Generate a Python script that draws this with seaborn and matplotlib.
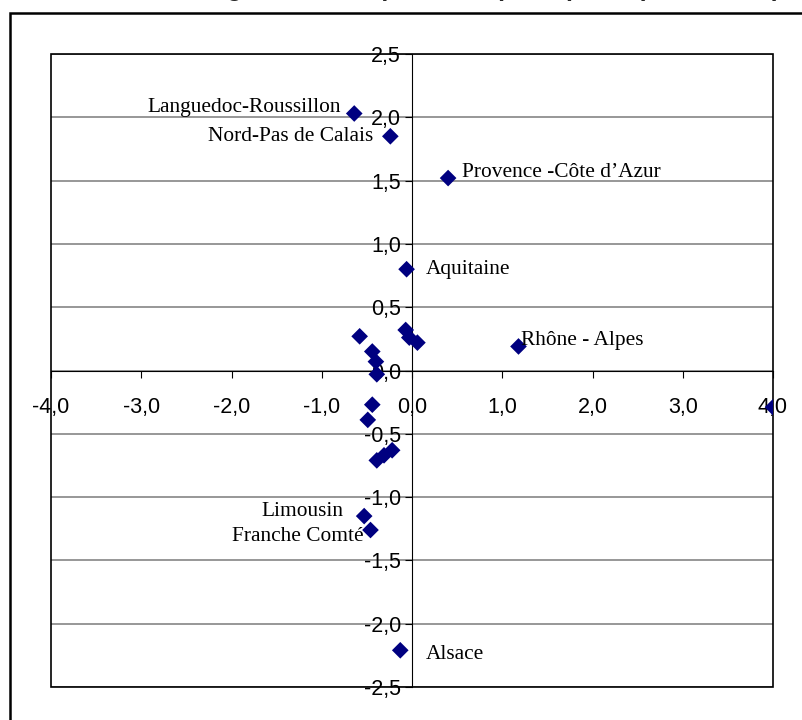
import matplotlib
matplotlib.use("Agg")
import matplotlib.pyplot as plt
from matplotlib.patches import Rectangle
from matplotlib.ticker import FuncFormatter, MultipleLocator
import seaborn as sns
import pandas as pd

# ---- data ----
regions = ["Languedoc-Roussillon", "Nord-Pas de Calais", "Provence -Côte d’Azur",
           "Aquitaine", "Rhône - Alpes", "", "Alsace", "Limousin", "Franche Comté",
           "", "", "", "", "", "", "", "", "", "", "", ""]
axis1 = [-0.64, -0.24, 0.40, -0.06, 1.18, 4.00, -0.13, -0.53, -0.46,
         -0.58, -0.44, -0.40, -0.39, -0.44, -0.49, -0.07, -0.03, 0.06,
         -0.39, -0.31, -0.22]
axis2 = [2.03, 1.85, 1.52, 0.80, 0.19, -0.29, -2.21, -1.15, -1.26,
         0.27, 0.15, 0.07, -0.03, -0.27, -0.39, 0.32, 0.26, 0.22,
         -0.71, -0.67, -0.63]
x_ticks = [-4, -3, -2, -1, 0, 1, 2, 3, 4]
title = "Régions et composantes principales (axes 1 et 2)"

# label layout: (dx px, dy px, horizontal alignment)
label_layout = {
    "Languedoc-Roussillon": (-13, 6, "right"),
    "Nord-Pas de Calais": (-17, 0, "right"),
    "Provence -Côte d’Azur": (14, 6, "left"),
    "Aquitaine": (19, 0, "left"),
    "Rhône - Alpes": (3, 6, "left"),
    "Limousin": (-21, 5, "right"),
    "Franche Comté": (-7, -6, "right"),
    "Alsace": (26, -4, "left"),
}

df = pd.DataFrame({"region": regions, "x": axis1, "y": axis2})

sns.set_theme(style="white")
plt.rcParams["font.family"] = ["Liberation Sans", "DejaVu Sans"]

W, H = 802, 720
fig = plt.figure(figsize=(W / 100, H / 100), dpi=100)
ax = fig.add_axes([51 / W, 1 - 687 / H, (773 - 51) / W, (687 - 54) / H])

sns.scatterplot(data=df, x="x", y="y", marker="D", color="#000080", s=72,
                edgecolor="none", linewidth=0, ax=ax, legend=False, zorder=4)

ax.set_xlim(-4, 4)
ax.set_ylim(-2.5, 2.5)
ax.set_xlabel("")
ax.set_ylabel("")
ax.set_xticks(x_ticks)
ax.yaxis.set_major_locator(MultipleLocator(0.5))
fmt = FuncFormatter(lambda v, p: f"{v:.1f}".replace(".", ",").replace("-0,0", "0,0"))
ax.xaxis.set_major_formatter(fmt)
ax.yaxis.set_major_formatter(fmt)

for s in ["top", "right"]:
    ax.spines[s].set_visible(False)
ax.spines["left"].set_position(("data", 0))
ax.spines["bottom"].set_position(("data", 0))
for s in ["left", "bottom"]:
    ax.spines[s].set_color("black")
    ax.spines[s].set_linewidth(0.8)

ax.tick_params(axis="x", direction="out", length=5, width=0.8, pad=14,
               labelsize=15.5, colors="black", bottom=True)
ax.tick_params(axis="y", direction="out", length=5, width=0.8, pad=3,
               labelsize=15.5, colors="black", left=True)

ax.yaxis.grid(True, color="#7a7a7a", linewidth=1.1)
ax.xaxis.grid(False)
ax.set_axisbelow(True)

ax.add_patch(Rectangle((0, 0), 1, 1, transform=ax.transAxes, fill=False,
                       edgecolor="black", linewidth=1.2, zorder=2.6, clip_on=False))

for name, xv, yv in zip(df["region"], df["x"], df["y"]):
    if not name:
        continue
    dx, dy, ha = label_layout[name]
    ax.annotate(name, (xv, yv), xytext=(dx, dy), textcoords="offset pixels",
                ha=ha, va="center", fontsize=15.4, family="Liberation Serif",
                color="black", zorder=5)

# outer chart border (clipped by the picture on right and bottom)
fig.patches.append(Rectangle((10 / W, -0.2), 1.2, 1.2 - 12.5 / H,
                             transform=fig.transFigure, fill=False,
                             edgecolor="black", linewidth=1.8))

# chart title, cut off at the top edge as in the reference
fig.text(780 / W, 1 + 3.5 / H, title, ha="right", va="baseline",
         fontsize=18, fontweight="bold", family="Liberation Sans")

fig.savefig("out.png", dpi=100)
